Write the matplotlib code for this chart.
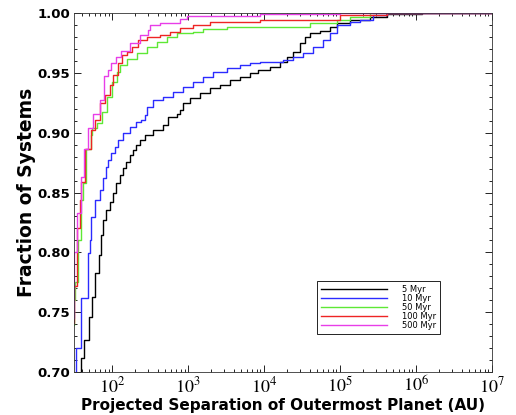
import matplotlib
matplotlib.use('Agg')
import matplotlib.pyplot as plt
from matplotlib.ticker import FixedLocator, LogLocator, NullFormatter

plt.rcParams['mathtext.fontset'] = 'stix'

# Cumulative fractions (x in AU, y = fraction, step after x)
x_5 = [30, 38.7, 42.8, 49.3, 54.6, 60.3, 66.9, 71.0, 76.2, 84.1, 93.3, 103, 114, 126, 140,
       154, 171, 189, 209, 231, 269, 349, 473, 551, 710, 785, 867, 1062, 1439, 1945, 2636,
       3570, 4830, 6540, 8420, 12000, 16200, 19900, 24300, 29800, 34600, 40300, 54600,
       73800, 90600, 136000, 248000, 411000, 1.2e6, 1e7]
y_5 = [0.69, 0.712, 0.727, 0.746, 0.763, 0.783, 0.798, 0.8145, 0.827, 0.8354, 0.842, 0.850,
       0.858, 0.8647, 0.8705, 0.8755, 0.8814, 0.8855, 0.890, 0.894, 0.898, 0.902, 0.9064,
       0.913, 0.916, 0.919, 0.9246, 0.9287, 0.9329, 0.937, 0.940, 0.944, 0.9468, 0.9496,
       0.9524, 0.955, 0.9593, 0.9635, 0.9677, 0.9747, 0.980, 0.983, 0.985, 0.9886, 0.9919,
       0.9942, 0.997, 0.9992, 1.0, 1.0]

x_10 = [30, 33.9, 38.7, 48.3, 50.9, 53.5, 59.2, 68.9, 76.2, 84.1, 88.5, 97.9, 109, 120, 140,
        171, 209, 241, 269, 286, 349, 473, 641, 867, 1175, 1589, 2152, 3228, 4830, 6540,
        8860, 17960, 24300, 32900, 44600, 60300, 73800, 90600, 136000, 183000, 272000,
        411000, 1.2e6, 1e7]
y_10 = [0.69, 0.720, 0.762, 0.7995, 0.810, 0.8296, 0.844, 0.852, 0.862, 0.871, 0.877, 0.883,
        0.888, 0.894, 0.900, 0.905, 0.909, 0.911, 0.915, 0.9217, 0.927, 0.930, 0.9343,
        0.9384, 0.9426, 0.9468, 0.951, 0.9538, 0.9566, 0.9585, 0.9593, 0.9607, 0.9635,
        0.9663, 0.9718, 0.9774, 0.983, 0.990, 0.9927, 0.9942, 0.998, 0.9997, 1.0, 1.0]

x_50 = [30, 32.0, 33.0, 36.2, 38.7, 41.5, 45.9, 52.5, 55.1, 62.9, 73.2, 85.1, 99.1, 115, 127,
        156, 211, 286, 387, 525, 710, 1164, 1575, 3228, 8860, 40300, 90600, 136000, 248000,
        1e6, 1e7]
y_50 = [0.739, 0.76, 0.775, 0.810, 0.844, 0.858, 0.886, 0.898, 0.904, 0.908, 0.917, 0.930,
        0.9426, 0.951, 0.9566, 0.962, 0.9663, 0.9718, 0.976, 0.980, 0.983, 0.9844, 0.987,
        0.988, 0.9886, 0.9914, 0.994, 0.997, 0.9997, 1.0, 1.0]

x_100 = [30, 31.8, 34.6, 37.6, 39.5, 44.8, 53, 59.7, 69.5, 81, 94, 103, 120, 134, 156, 182,
         222, 286, 428, 580, 785, 1164, 1945, 8860, 1e5, 4.1e5, 1e7]
y_100 = [0.741, 0.772, 0.82, 0.844, 0.859, 0.886, 0.902, 0.911, 0.925, 0.9315, 0.940, 0.948,
         0.958, 0.965, 0.9677, 0.9718, 0.9774, 0.9797, 0.9816, 0.9844, 0.9872, 0.990, 0.9927,
         0.9942, 0.998, 1.0, 1.0]

x_500 = [30, 31.8, 34.6, 38.7, 42.8, 48.3, 56.2, 68.9, 78.5, 88.5, 97.9, 114, 133, 171, 231,
         298, 316, 428, 785, 961, 8860, 1e5, 1e7]
y_500 = [0.745, 0.80, 0.833, 0.863, 0.886, 0.904, 0.916, 0.927, 0.947, 0.952, 0.958, 0.9635,
         0.968, 0.975, 0.982, 0.986, 0.990, 0.992, 0.995, 0.9975, 0.9992, 1.0, 1.0]

labels = ['5 Myr', '10 Myr', '50 Myr', '100 Myr', '500 Myr']
colors = ['black', '#2b2bff', '#5ee835', '#ee2424', '#e83ee8']
x_ticks = [1e2, 1e3, 1e4, 1e5, 1e6, 1e7]
x_tick_labels = ['$10^{2}$', '$10^{3}$', '$10^{4}$', '$10^{5}$', '$10^{6}$', '$10^{7}$']
y_ticks = [0.70, 0.75, 0.80, 0.85, 0.90, 0.95, 1.00]

fig = plt.figure(figsize=(5.16, 4.15), dpi=100)
ax = fig.add_axes([0.1434, 0.1036, 0.81, 0.865])

series = [(x_5, y_5), (x_10, y_10), (x_50, y_50), (x_100, y_100), (x_500, y_500)]
for (xs, ys), lab, col in zip(series, labels, colors):
    ax.step(xs, ys, where='post', color=col, lw=1.0, label=lab)

ax.set_xscale('log')
ax.set_xlim(10**1.5, 1e7)
ax.set_ylim(0.70, 1.00)

ax.xaxis.set_major_locator(FixedLocator(x_ticks))
ax.set_xticklabels(x_tick_labels, fontsize=13)
ax.xaxis.set_minor_locator(LogLocator(base=10, subs=range(2, 10), numticks=20))
ax.xaxis.set_minor_formatter(NullFormatter())
ax.yaxis.set_major_locator(FixedLocator(y_ticks))
ax.set_yticklabels(['%.2f' % v for v in y_ticks], fontsize=9.5, fontweight='bold')
ax.yaxis.set_minor_locator(FixedLocator([0.70 + 0.01 * i for i in range(31)]))

ax.tick_params(which='both', direction='in', top=True, right=True, width=0.6)
ax.tick_params(which='major', length=5, pad=3)
ax.tick_params(which='minor', length=2.5)
for s in ax.spines.values():
    s.set_linewidth(0.6)
    s.set_color('#333333')

ax.set_xlabel('Projected Separation of Outermost Planet (AU)', fontsize=11,
              fontweight='bold', labelpad=1)
ax.set_ylabel('Fraction of Systems', fontsize=13.5, fontweight='bold', labelpad=0.5)

leg = ax.legend(loc='lower left', bbox_to_anchor=(0.581, 0.106), fontsize=6,
                handlelength=8.0, labelspacing=0.0, borderpad=0.45, handletextpad=1.8,
                fancybox=False, framealpha=1, edgecolor='black', borderaxespad=0)
leg.get_frame().set_linewidth(0.6)

fig.savefig('out.png', dpi=100)
